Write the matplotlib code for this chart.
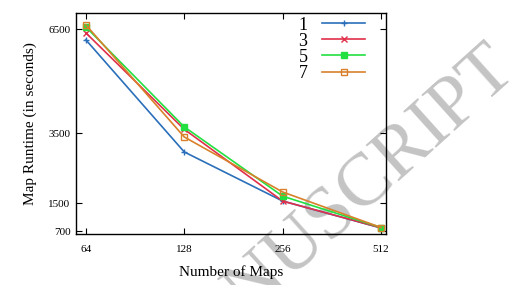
import matplotlib
matplotlib.use("Agg")
import matplotlib.pyplot as plt

plt.rcParams['font.family'] = ['Liberation Serif', 'DejaVu Serif']

maps = [64, 128, 256, 512]
labels = ['1', '3', '5', '7']
runtime = {
    '1': [6190, 2970, 1560, 786],
    '3': [6390, 3620, 1560, 790],
    '5': [6560, 3690, 1700, 800],
    '7': [6620, 3400, 1820, 800],
}
colors = ['#2a6fba', '#e0304a', '#22e040', '#d8802a']
markers = ['+', 'x', 's', 's']

fig = plt.figure(figsize=(5.11, 2.85), dpi=100)
ax = fig.add_axes([76/511, 1-234/285, 310/511, 221/285])

# watermark behind everything
fig.text(1.015, 0.745, 'MANUSCRIPT', fontsize=54, color='#c4c4c4',
         rotation=42, rotation_mode='anchor', ha='right', va='baseline',
         zorder=0)
ax.set_zorder(1)
ax.patch.set_alpha(0)

for lab, c, m in zip(labels, colors, markers):
    face = c if lab == '5' else 'none'
    ax.plot(maps, runtime[lab], color=c, marker=m, markersize=4,
            markerfacecolor=face, markeredgecolor=c, linewidth=1.2, label=lab)

ax.set_xscale('log', base=2)
ax.set_xlim(64 * 2 ** -0.1, 512 * 2 ** 0.05)
ax.set_ylim(614, 6960)
ax.set_xticks(maps)
ax.set_xticklabels([str(m) for m in maps])
ax.minorticks_off()
ax.set_yticks([700, 1500, 3500, 6500])
ax.tick_params(direction='in', top=True, right=True, labelsize=8, length=4,
               pad=8)
ax.tick_params(axis='y', pad=4)
for s in ax.spines.values():
    s.set_linewidth(1.0)

ax.set_xlabel('Number of Maps', fontsize=11, labelpad=8)
ax.set_ylabel('Map Runtime (in seconds)', fontsize=11, labelpad=8)

leg = ax.legend(loc='upper right', bbox_to_anchor=(0.974, 1.041),
                frameon=False, fontsize=13, markerfirst=False,
                handlelength=2.4, handletextpad=0.8,
                labelspacing=-0.05, borderaxespad=0.3)

fig.savefig('out.png', dpi=100)
